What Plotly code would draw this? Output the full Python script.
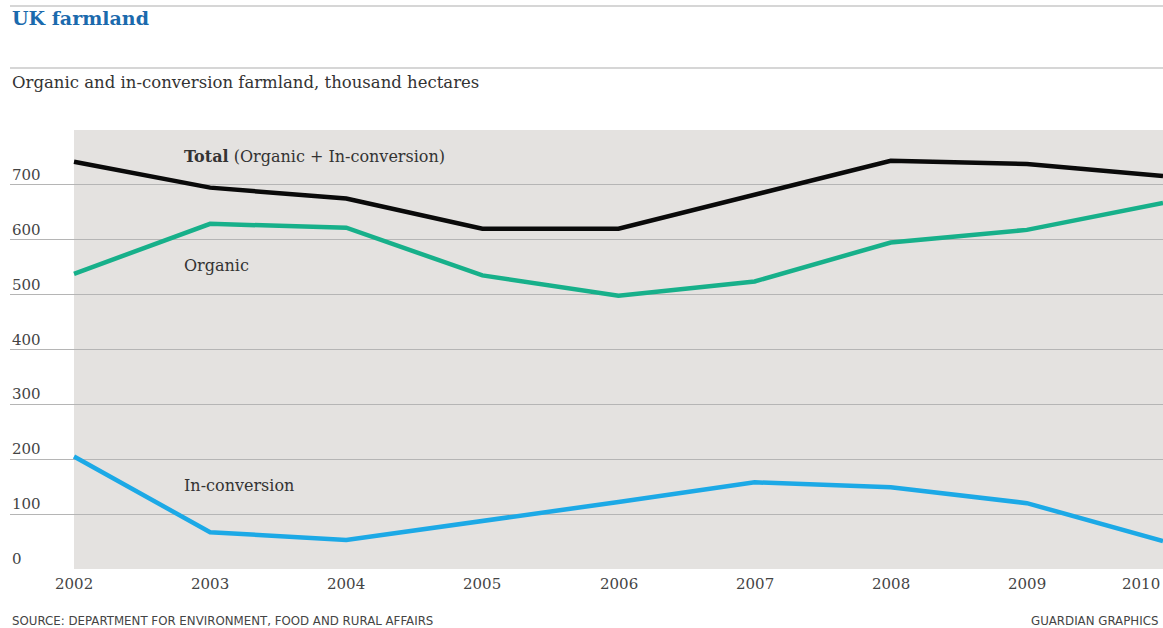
import plotly.graph_objects as go

years = [2002, 2003, 2004, 2005, 2006, 2007, 2008, 2009, 2010]
total = [742, 695, 675, 620, 620, 682, 744, 738, 716]
organic = [538, 629, 622, 535, 498, 524, 595, 618, 667]
in_conversion = [205, 67, 53, 87, 122, 158, 149, 120, 51]
y_ticks = [0, 100, 200, 300, 400, 500, 600, 700]

W, H = 1163, 628
L, R, T, B = 10, 0, 130, 59
px_per_year = (W - 74) / 8.0
x_start = 2002 - (74 - L) / px_per_year

def py(ypix):
    return (H - B - ypix) / (H - T - B)

serif = "DejaVu Serif"
fig = go.Figure()

fig.add_shape(type="rect", xref="x", yref="y", x0=2002, x1=2010, y0=0, y1=800,
              fillcolor="#e4e2e0", line_width=0, layer="below")

fig.add_trace(go.Scatter(x=years, y=total, mode="lines",
                         line=dict(color="#0a0a0a", width=4.5), hoverinfo="skip"))
fig.add_trace(go.Scatter(x=years, y=organic, mode="lines",
                         line=dict(color="#17b08a", width=4.5), hoverinfo="skip"))
fig.add_trace(go.Scatter(x=years, y=in_conversion, mode="lines",
                         line=dict(color="#1ca9e6", width=4.5), hoverinfo="skip"))

lx = 2002 + (182 - 74) / px_per_year
fig.add_annotation(x=lx, y=752, xref="x", yref="y", xanchor="left", yanchor="middle",
                   text="<b>Total</b> (Organic + In-conversion)", showarrow=False,
                   font=dict(family=serif, size=16, color="#333"))
fig.add_annotation(x=lx, y=553, xref="x", yref="y", xanchor="left", yanchor="middle",
                   text="Organic", showarrow=False,
                   font=dict(family=serif, size=16, color="#333"))
fig.add_annotation(x=lx, y=153, xref="x", yref="y", xanchor="left", yanchor="middle",
                   text="In-conversion", showarrow=False,
                   font=dict(family=serif, size=16, color="#333"))

# y tick labels above gridlines
for v in y_ticks:
    fig.add_annotation(x=0, y=v, xref="paper", yref="y", xanchor="left", yanchor="bottom",
                       yshift=-1, text=str(v), showarrow=False,
                       font=dict(family=serif, size=15, color="#444"))

# x tick labels
for yr in years:
    last = yr == years[-1]
    fig.add_annotation(x=yr, y=0, xref="x", yref="y", xanchor="right" if last else "center",
                       yanchor="top", yshift=-4, xshift=-1 if last else 0,
                       text=str(yr), showarrow=False,
                       font=dict(family=serif, size=15, color="#444"))

# title, subtitle, rules
fig.add_shape(type="line", xref="paper", yref="paper", x0=0, x1=1, y0=py(6), y1=py(6),
              line=dict(color="#c8c8c8", width=1.5))
fig.add_shape(type="line", xref="paper", yref="paper", x0=0, x1=1, y0=py(68), y1=py(68),
              line=dict(color="#c8c8c8", width=1.5))
fig.add_annotation(x=0, y=py(18), xref="paper", yref="paper", xanchor="left", yanchor="middle",
                   text="<b>UK farmland</b>", showarrow=False,
                   font=dict(family=serif, size=19, color="#1b6aad"))
fig.add_annotation(x=0, y=py(82), xref="paper", yref="paper", xanchor="left", yanchor="middle",
                   text="Organic and in-conversion farmland, thousand hectares", showarrow=False,
                   font=dict(family=serif, size=16.5, color="#333"))
fig.add_annotation(x=0, y=py(621), xref="paper", yref="paper", xanchor="left", yanchor="middle",
                   text="SOURCE: DEPARTMENT FOR ENVIRONMENT, FOOD AND RURAL AFFAIRS", showarrow=False,
                   font=dict(family="DejaVu Sans", size=11.8, color="#444"))
fig.add_annotation(x=1, y=py(621), xref="paper", yref="paper", xanchor="right", yanchor="middle",
                   xshift=-3,
                   text="GUARDIAN GRAPHICS", showarrow=False,
                   font=dict(family="DejaVu Sans", size=11.8, color="#444"))

fig.update_layout(
    width=W, height=H,
    margin=dict(l=L, r=R, t=T, b=B),
    paper_bgcolor="white", plot_bgcolor="white",
    showlegend=False,
    xaxis=dict(range=[x_start, 2010], showticklabels=False,
               showgrid=False, zeroline=False, showline=False, ticks=""),
    yaxis=dict(range=[0, 800], tickvals=y_ticks + [800], showticklabels=False,
               showgrid=True, gridcolor="#b5b5b5", gridwidth=1, zeroline=False,
               showline=False, ticks=""),
)

fig.write_html("out.html", config={"displayModeBar": False},
               post_script="document.body.style.margin='0';document.body.style.overflow='hidden';")
